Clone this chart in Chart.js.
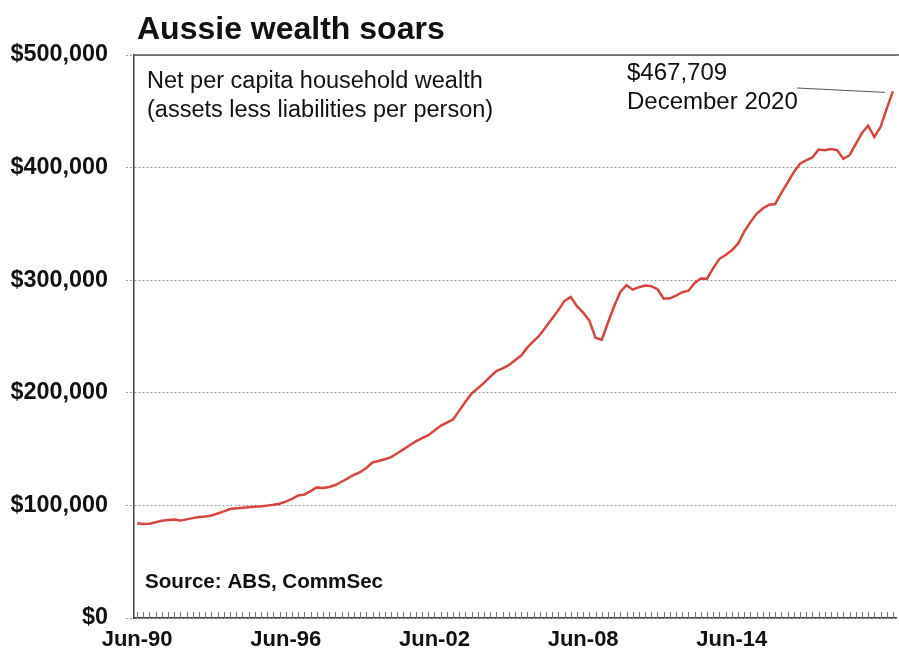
<!DOCTYPE html>
<html>
<head>
<meta charset="utf-8">
<script src="https://cdn.jsdelivr.net/npm/chart.js@4.4.1/dist/chart.umd.min.js"></script>
<style>
  html, body { margin: 0; padding: 0; background: #fff; }
</style>
</head>
<body>
<canvas id="wealthChart" width="899" height="651"></canvas>
<script>
// Quarterly periods, Jun-90 to Dec-20
const quarters = [
  'Jun-90','Sep-90','Dec-90',
  'Mar-91','Jun-91','Sep-91','Dec-91',
  'Mar-92','Jun-92','Sep-92','Dec-92',
  'Mar-93','Jun-93','Sep-93','Dec-93',
  'Mar-94','Jun-94','Sep-94','Dec-94',
  'Mar-95','Jun-95','Sep-95','Dec-95',
  'Mar-96','Jun-96','Sep-96','Dec-96',
  'Mar-97','Jun-97','Sep-97','Dec-97',
  'Mar-98','Jun-98','Sep-98','Dec-98',
  'Mar-99','Jun-99','Sep-99','Dec-99',
  'Mar-00','Jun-00','Sep-00','Dec-00',
  'Mar-01','Jun-01','Sep-01','Dec-01',
  'Mar-02','Jun-02','Sep-02','Dec-02',
  'Mar-03','Jun-03','Sep-03','Dec-03',
  'Mar-04','Jun-04','Sep-04','Dec-04',
  'Mar-05','Jun-05','Sep-05','Dec-05',
  'Mar-06','Jun-06','Sep-06','Dec-06',
  'Mar-07','Jun-07','Sep-07','Dec-07',
  'Mar-08','Jun-08','Sep-08','Dec-08',
  'Mar-09','Jun-09','Sep-09','Dec-09',
  'Mar-10','Jun-10','Sep-10','Dec-10',
  'Mar-11','Jun-11','Sep-11','Dec-11',
  'Mar-12','Jun-12','Sep-12','Dec-12',
  'Mar-13','Jun-13','Sep-13','Dec-13',
  'Mar-14','Jun-14','Sep-14','Dec-14',
  'Mar-15','Jun-15','Sep-15','Dec-15',
  'Mar-16','Jun-16','Sep-16','Dec-16',
  'Mar-17','Jun-17','Sep-17','Dec-17',
  'Mar-18','Jun-18','Sep-18','Dec-18',
  'Mar-19','Jun-19','Sep-19','Dec-19',
  'Mar-20','Jun-20','Sep-20','Dec-20'
];

// Net per capita household wealth ($)
const wealth = [
  84100, 83500, 83800,
  85100, 86300, 87000, 87500,
  86500, 87600, 88700, 89600,
  90200, 91000, 92800, 94700,
  96800, 97400, 97900, 98300,
  98800, 99200, 99800, 100500,
  101500, 103400, 105800, 108800,
  109700, 112600, 116000, 115400,
  116300, 118100, 121000, 124000,
  127200, 129500, 133300, 138100,
  139400, 141000, 142900, 146300,
  149800, 153400, 156900, 159700,
  162400, 166600, 170700, 173500,
  176300, 184200, 192000, 199400,
  204100, 208800, 214300, 219200,
  221600, 224500, 228900, 233100,
  240300, 245800, 251300, 258700,
  266000, 273400, 281600, 285200,
  277000, 271200, 264200, 248900,
  247000, 262200, 276900, 289600,
  295500, 291600, 293800, 295300,
  294700, 292000, 283500, 283900,
  286400, 289300, 290700, 297500,
  301500, 301300, 310700, 319000,
  322400, 326500, 332400, 343100,
  351600, 359000, 363700, 367100,
  367700, 377600, 386700, 396000,
  403400, 406400, 409000, 416100,
  415400, 416400, 415500, 407700,
  411000, 420900, 430700, 437300,
  427200, 436000, 452400, 467709
];

const xTickLabels = ['Jun-90', 'Jun-96', 'Jun-02', 'Jun-08', 'Jun-14'];
const yTicks = [0, 100000, 200000, 300000, 400000, 500000];

const titleText = 'Aussie wealth soars';
const subtitleLines = ['Net per capita household wealth', '(assets less liabilities per person)'];
const sourceText = 'Source: ABS, CommSec';
const noteLines = ['$467,709', 'December 2020'];

const FONT = "'Liberation Sans', Arial, sans-serif";
const INK = '#111111';

// Titles, notes, frame top and small quarter ticks
const overlay = {
  id: 'overlay',
  afterDraw(chart) {
    const ctx = chart.ctx;
    const area = chart.chartArea;
    const xs = chart.scales.x;
    ctx.save();

    // small quarterly ticks on the bottom axis
    ctx.strokeStyle = '#777';
    ctx.lineWidth = 1;
    ctx.beginPath();
    for (let i = 0; i < quarters.length; i++) {
      const x = Math.round(xs.getPixelForValue(i)) + 0.5;
      ctx.moveTo(x, area.bottom);
      ctx.lineTo(x, area.bottom - 6);
    }
    ctx.stroke();

    // top frame line
    ctx.strokeStyle = '#555';
    ctx.lineWidth = 1.5;
    ctx.beginPath();
    ctx.moveTo(area.left, area.top);
    ctx.lineTo(chart.width, area.top);
    ctx.stroke();

    ctx.fillStyle = INK;
    ctx.textBaseline = 'middle';
    ctx.textAlign = 'left';

    ctx.font = 'bold 32px ' + FONT;
    ctx.fillText(titleText, 137, 30);

    ctx.font = '23.5px ' + FONT;
    ctx.fillText(subtitleLines[0], 147, 82);
    ctx.fillText(subtitleLines[1], 147, 111);

    ctx.font = 'bold 20.6px ' + FONT;
    ctx.fillText(sourceText, 145, 582);

    ctx.font = '24px ' + FONT;
    ctx.fillText(noteLines[0], 627, 73);
    ctx.fillText(noteLines[1], 627, 102);

    // leader line to the last point
    const meta = chart.getDatasetMeta(0);
    const last = meta.data[meta.data.length - 1];
    ctx.strokeStyle = '#555';
    ctx.lineWidth = 1;
    ctx.beginPath();
    ctx.moveTo(797, 88);
    ctx.lineTo(last.x - 8, last.y + 1);
    ctx.stroke();

    ctx.restore();
  }
};

const ctx = document.getElementById('wealthChart').getContext('2d');
const wealthChart = new Chart(ctx, {
  type: 'line',
  data: {
    labels: quarters,
    datasets: [{
      label: 'Net per capita household wealth',
      data: wealth,
      borderColor: '#d4463f',
      borderWidth: 2.5,
      pointRadius: 0,
      tension: 0,
      fill: false
    }]
  },
  options: {
    responsive: false,
    animation: false,
    layout: { padding: { top: 55, right: 3, left: 0, bottom: 0 } },
    plugins: {
      legend: { display: false },
      tooltip: { enabled: false }
    },
    scales: {
      x: {
        offset: true,
        grid: { display: false },
        border: { display: true, color: '#444', width: 1.5 },
        afterFit: (scale) => { scale.height = 33; },
        ticks: {
          autoSkip: false,
          maxRotation: 0,
          padding: 1,
          color: INK,
          font: { family: FONT, size: 22, weight: 'bold' },
          callback: function (value, index) {
            const lab = quarters[index];
            return xTickLabels.includes(lab) ? lab : '';
          }
        }
      },
      y: {
        min: 0,
        max: 500000,
        afterFit: (scale) => { scale.width = 134; },
        afterBuildTicks: (scale) => { scale.ticks = yTicks.map(v => ({ value: v })); },
        grid: {
          color: '#9a9a9a',
          lineWidth: 1,
          tickLength: 8,
          tickBorderDash: [2, 2],
          tickColor: '#9a9a9a'
        },
        border: { display: true, color: '#444', width: 1.5, dash: [2, 2] },
        ticks: {
          padding: 18,
          color: INK,
          font: { family: FONT, size: 23.4, weight: 'bold' },
          callback: (v) => '$' + Number(v).toLocaleString('en-US')
        }
      }
    }
  },
  plugins: [overlay]
});
</script>
</body>
</html>
